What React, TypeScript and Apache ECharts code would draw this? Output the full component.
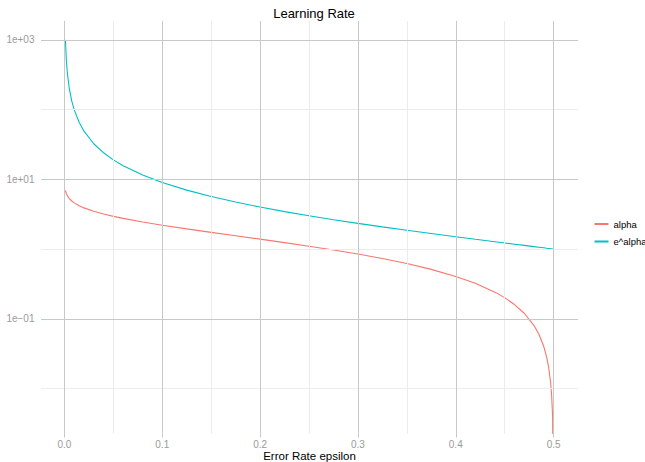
import React, { useEffect, useRef } from 'react';
import * as echarts from 'echarts';

// Error rate epsilon (x) and the two curves
const epsilon = [
  0.001, 0.002, 0.003, 0.005, 0.0075, 0.01, 0.015, 0.02, 0.03, 0.04, 0.05, 0.06, 0.08,
  0.1, 0.125, 0.15, 0.175, 0.2, 0.225, 0.25, 0.275, 0.3, 0.325, 0.35, 0.375, 0.4,
  0.42, 0.44, 0.45, 0.46, 0.47, 0.48, 0.485, 0.49, 0.493, 0.495, 0.497, 0.498, 0.499, 0.5,
];
const alphaValues = [
  6.907, 6.213, 5.806, 5.293, 4.885, 4.595, 4.185, 3.892, 3.476, 3.178, 2.944, 2.752, 2.442,
  2.197, 1.946, 1.735, 1.551, 1.386, 1.237, 1.099, 0.969, 0.847, 0.731, 0.619, 0.511, 0.405,
  0.323, 0.241, 0.201, 0.16, 0.12, 0.08, 0.06, 0.04, 0.028, 0.02, 0.012, 0.008, 0.004, 0.0001,
];
const expAlphaValues = [
  999, 499, 332.3, 199, 132.3, 99, 65.67, 49, 32.33, 24, 19, 15.67, 11.5,
  9, 7, 5.667, 4.714, 4, 3.444, 3, 2.636, 2.333, 2.077, 1.857, 1.667, 1.5,
  1.381, 1.273, 1.222, 1.174, 1.128, 1.083, 1.062, 1.041, 1.028, 1.02, 1.012, 1.008, 1.004, 1,
];
const seriesNames = ['alpha', 'e^alpha'];
const seriesColors = ['#F8766D', '#00BFC4'];

const xTickValues = [0, 0.1, 0.2, 0.3, 0.4, 0.5];
const xMinorValues = [0.05, 0.15, 0.25, 0.35, 0.45];
const yTickValues = [0.1, 10, 1000];
const yTickLabels = ['1e\u221201', '1e+01', '1e+03'];
const yMinorValues = [0.01, 1, 100];

const FONT = '"Liberation Sans", Arial, Helvetica, sans-serif';
const MAJOR = '#c8c8c8';
const MINOR = '#ececec';

export default function App() {
  const ref = useRef<HTMLDivElement>(null);
  useEffect(() => {
    if (!ref.current) return;
    const chart = echarts.init(ref.current, undefined, { renderer: 'svg' });
    const gridLines: any[] = [];
    xMinorValues.forEach((v) => gridLines.push({ xAxis: v, lineStyle: { color: MINOR, width: 1, type: 'solid' } }));
    yMinorValues.forEach((v) => gridLines.push({ yAxis: v, lineStyle: { color: MINOR, width: 1, type: 'solid' } }));
    xTickValues.forEach((v) => gridLines.push({ xAxis: v, lineStyle: { color: MAJOR, width: 1, type: 'solid' } }));
    yTickValues.forEach((v) => gridLines.push({ yAxis: v, lineStyle: { color: MAJOR, width: 1, type: 'solid' } }));

    chart.setOption({
      animation: false,
      backgroundColor: '#ffffff',
      title: {
        text: 'Learning Rate',
        left: 309,
        top: 2,
        textAlign: 'center',
        textStyle: { fontFamily: FONT, fontSize: 13, fontWeight: 'normal', color: '#000' },
      },
      legend: {
        orient: 'vertical',
        left: 589.5,
        top: 213,
        icon: 'rect',
        itemWidth: 14,
        itemHeight: 2,
        itemGap: 5.5,
        data: seriesNames,
        textStyle: { fontFamily: FONT, fontSize: 9.5, color: '#000', lineHeight: 12 },
      },
      grid: { left: 41, right: 67, top: 21, bottom: 28.5, containLabel: false, outerBoundsMode: 'none' },
      xAxis: {
        type: 'value',
        min: -0.02395,
        max: 0.52495,
        name: 'Error Rate epsilon',
        nameLocation: 'middle',
        nameGap: 16,
        nameMoveOverlap: false,
        nameTextStyle: { fontFamily: FONT, fontSize: 11.5, color: '#000', verticalAlign: 'top' },
        axisLine: { show: false },
        axisTick: { show: true, length: 4, customValues: xTickValues, lineStyle: { color: MAJOR } },
        axisLabel: {
          customValues: xTickValues,
          formatter: (v: number) => v.toFixed(1),
          margin: 6,
          fontFamily: FONT,
          fontSize: 10,
          color: '#9a9a9a',
        },
        splitLine: { show: false },
      },
      yAxis: {
        type: 'log',
        logBase: 10,
        min: 0.002265,
        max: 1862,
        axisLine: { show: false },
        axisTick: { show: true, length: 4, customValues: yTickValues, lineStyle: { color: MAJOR } },
        axisLabel: {
          customValues: yTickValues,
          formatter: (v: number) => {
            const i = yTickValues.findIndex((t) => Math.abs(Math.log10(t) - Math.log10(v)) < 1e-6);
            return i >= 0 ? yTickLabels[i] : '';
          },
          margin: 6.5,
          fontFamily: FONT,
          fontSize: 10,
          color: '#9a9a9a',
        },
        splitLine: { show: false },
        minorSplitLine: { show: false },
      },
      series: [
        {
          type: 'line',
          data: [],
          silent: true,
          z: 1,
          markLine: {
            silent: true,
            symbol: ['none', 'none'],
            label: { show: false },
            emphasis: { disabled: true },
            data: gridLines,
          },
        },
        {
          name: seriesNames[0],
          type: 'line',
          data: epsilon.map((e, i) => [e, alphaValues[i]]),
          symbol: 'none',
          showSymbol: false,
          clip: true,
          z: 3,
          lineStyle: { color: seriesColors[0], width: 1.1 },
          itemStyle: { color: seriesColors[0] },
        },
        {
          name: seriesNames[1],
          type: 'line',
          data: epsilon.map((e, i) => [e, expAlphaValues[i]]),
          symbol: 'none',
          showSymbol: false,
          clip: true,
          z: 3,
          lineStyle: { color: seriesColors[1], width: 1.1 },
          itemStyle: { color: seriesColors[1] },
        },
      ],
    });
    return () => chart.dispose();
  }, []);
  return (
    <div
      ref={ref}
      style={{ position: 'fixed', left: 0, top: 0, width: 645, height: 462, background: '#fff' }}
    />
  );
}
